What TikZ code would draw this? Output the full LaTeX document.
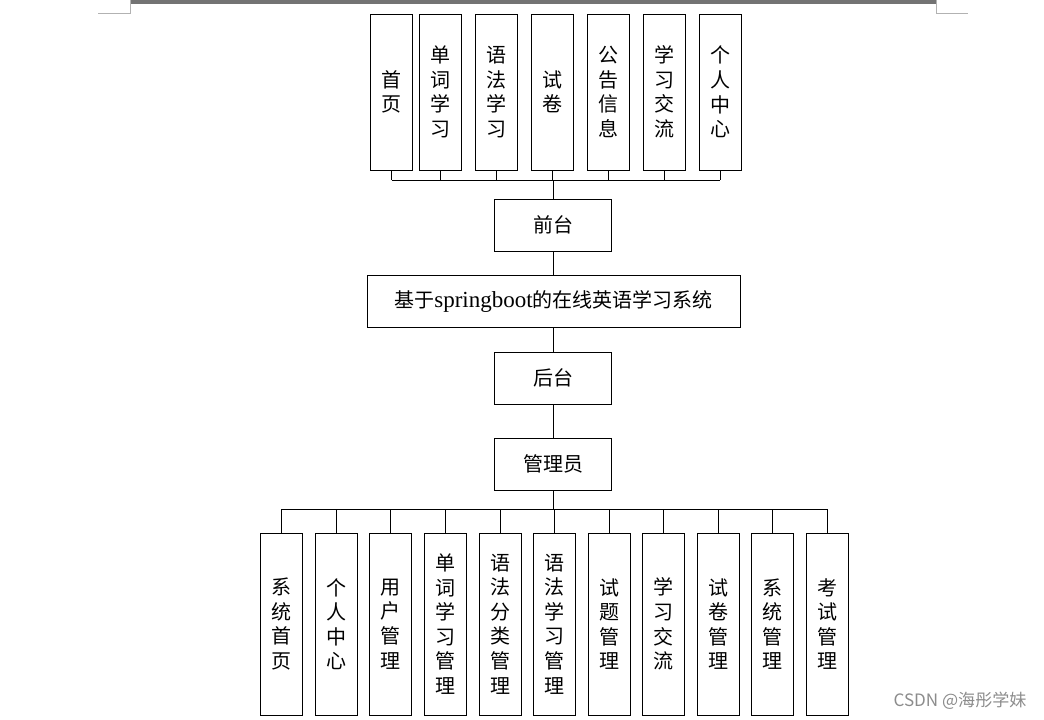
\documentclass[tikz,border=0pt]{standalone}
\usepackage{fontspec}
\setmainfont{Noto Sans CJK SC}
\newfontfamily\latserif[Scale=1.15]{Liberation Serif}
\begin{document}
\begin{tikzpicture}[x=0.75pt,y=-0.75pt,
  every node/.style={font=\fontsize{15pt}{18.4pt}\selectfont},
  boxbase/.style={draw=black,line width=0.75pt,inner sep=0pt,align=center},
  vtop/.style={boxbase,minimum width=31.5pt,minimum height=117pt},
  vbot/.style={boxbase,minimum width=31.5pt,minimum height=136.5pt},
  hbox/.style={boxbase,minimum width=87.75pt,minimum height=39pt},
  mainbox/.style={boxbase,minimum width=279.75pt,minimum height=39pt},
  conn/.style={draw=black,line width=0.75pt},
  pageedge/.style={draw=black!30,line width=0.75pt},
  watermark/.style={text=black!45,font=\fontsize{12.8pt}{14pt}\selectfont}
]
\useasboundingbox (0,0) rectangle (1044,719);
% page decoration at top
\draw[draw=black!55,line width=2pt] (131,1.2) -- (936,1.2);
\draw[draw=black!55,line width=0.6pt] (131,3.8) -- (936,3.8);
\draw[pageedge] (98,13.3) -- (130.7,13.3) -- (130.7,0);
\draw[pageedge] (967.7,13.3) -- (936,13.3) -- (936,0);

% top boxes
\node[vtop] (t1) at (391.5,92) {首\\页};
\node[vtop] (t2) at (440,92) {单\\词\\学\\习};
\node[vtop] (t3) at (496,92) {语\\法\\学\\习};
\node[vtop] (t4) at (552,92) {试\\卷};
\node[vtop] (t5) at (608,92) {公\\告\\信\\息};
\node[vtop] (t6) at (664,92) {学\\习\\交\\流};
\node[vtop] (t7) at (720,92) {个\\人\\中\\心};

% middle column
\node[hbox] (front) at (553,225) {前台};
\node[mainbox] (sys) at (553.5,301) {基于{\latserif springboot}的在线英语学习系统};
\node[hbox] (back) at (553,378) {后台};
\node[hbox] (admin) at (553,464) {管理员};

% bottom boxes
\node[vbot] (b1) at (281.7,624) {系\\统\\首\\页};
\node[vbot] (b2) at (336.3,624) {个\\人\\中\\心};
\node[vbot] (b3) at (390.9,624) {用\\户\\管\\理};
\node[vbot] (b4) at (445.4,624) {单\\词\\学\\习\\管\\理};
\node[vbot] (b5) at (500,624) {语\\法\\分\\类\\管\\理};
\node[vbot] (b6) at (554.6,624) {语\\法\\学\\习\\管\\理};
\node[vbot] (b7) at (609.2,624) {试\\题\\管\\理};
\node[vbot] (b8) at (663.8,624) {学\\习\\交\\流};
\node[vbot] (b9) at (718.3,624) {试\\卷\\管\\理};
\node[vbot] (b10) at (772.9,624) {系\\统\\管\\理};
\node[vbot] (b11) at (827.5,624) {考\\试\\管\\理};

% buses
\coordinate (tbus) at (0,180);
\coordinate (bbus) at (0,509.3);

\foreach \i in {1,...,7} {
  \draw[conn] (t\i.south) -- (t\i.south |- tbus);
}
\draw[conn] (t1.south |- tbus) -- (t7.south |- tbus);
\draw[conn] (front.north) -- (front.north |- tbus);
\draw[conn] (front.south) -- (sys.north -| front.south);
\draw[conn] (sys.south -| back.north) -- (back.north);
\draw[conn] (back.south) -- (admin.north);
\draw[conn] (admin.south) -- (admin.south |- bbus);
\foreach \i in {1,...,11} {
  \draw[conn] (b\i.north) -- (b\i.north |- bbus);
}
\draw[conn] (b1.north |- bbus) -- (b11.north |- bbus);

% watermark
\node[watermark] (wm) at (960,701) {CSDN @海彤学妹};
\end{tikzpicture}
\end{document}
